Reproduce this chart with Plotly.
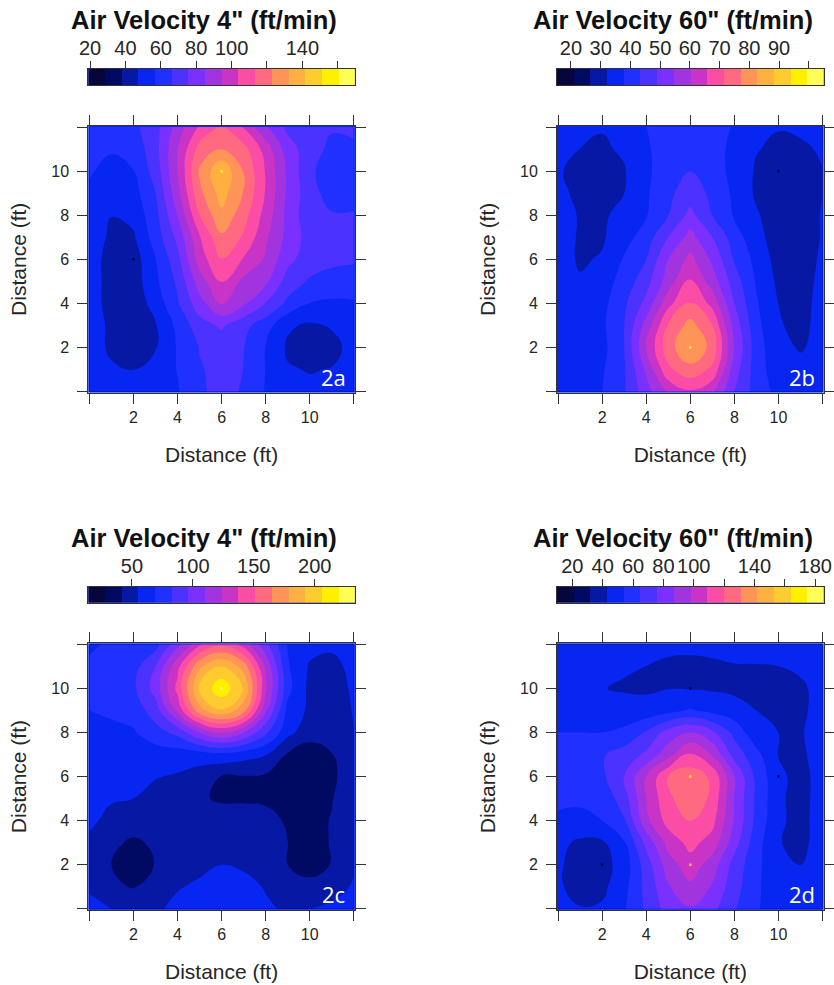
import plotly.graph_objects as go

WIDTH, HEIGHT = 834, 985

grid_x = list(range(13))
grid_y = list(range(12, -1, -1))

# air velocity (ft/min), rows from y=12 down to y=0
vel_2a = [
    [59, 61, 64, 72, 89, 105, 115, 103, 86, 73, 70, 67, 68],
    [58, 57.5, 60, 72, 94, 117, 123, 116.5, 100, 80, 70, 64, 64.5],
    [57.5, 54, 56.5, 70, 94, 124, 140, 122, 103, 83, 68, 61, 62],
    [55.5, 50, 53, 66, 91, 120, 136, 122, 103, 83, 70, 62, 62],
    [56.5, 47.5, 50, 63, 85, 113, 130, 117, 100, 82, 69, 67, 67],
    [55.5, 44.5, 46, 61, 78, 103, 121, 112, 96, 82, 71.5, 70, 70],
    [53, 42.5, 42.5, 56.5, 72.5, 99, 113, 103, 93, 78, 71, 68, 67],
    [52, 43.5, 42.5, 54.5, 68, 90, 104, 92, 87, 71.5, 65, 63, 63],
    [52, 43.5, 41.5, 51, 65, 81, 95, 86.5, 75, 64, 56.5, 55, 55.5],
    [53, 45, 41.5, 46.5, 59, 71.5, 77, 69, 61, 48.5, 46, 48, 51],
    [53.5, 45, 40.5, 46.5, 57.5, 66.5, 69.5, 66.5, 56.5, 46, 40.6, 44.8, 50],
    [53.5, 49, 47, 52, 57, 65.4, 68.5, 66, 56.5, 48, 46.8, 47.6, 53],
    [57, 51, 50, 53, 56, 64.5, 69.5, 65, 56, 51, 49, 51, 53.5],
]
vel_2b = [
    [33.8, 32.7, 32.4, 33.8, 37.7, 40, 41, 39.4, 37.4, 33.2, 32.4, 33, 33.8],
    [33.2, 32.1, 31.5, 32.7, 37.1, 40, 41.6, 39.4, 36.6, 32.4, 31, 31.3, 32.7],
    [32.7, 30.4, 29.9, 31.8, 36.6, 41, 43.3, 40.5, 36, 31.5, 29.3, 29.9, 32],
    [33, 31.3, 30.4, 32.1, 36.9, 42.2, 46.1, 42.2, 36.6, 31.3, 29.3, 29.9, 32.1],
    [33.8, 31.8, 31.3, 33.8, 37.4, 43.3, 50.6, 43.3, 37.1, 32.7, 29.3, 30.1, 32.4],
    [34.3, 31.6, 31.5, 35.5, 40.5, 48.9, 56.7, 48.9, 40.5, 33.8, 29.6, 30.1, 32.4],
    [34.3, 31.5, 32.6, 38.3, 43.3, 54.5, 61.8, 53.4, 42.7, 36, 29.9, 30.4, 32.7],
    [34.3, 32.6, 34.9, 40, 46.7, 57.3, 66.5, 57.3, 46.1, 37.1, 31, 30.7, 33],
    [34.3, 33.8, 36, 42.2, 50.6, 64, 71.9, 64, 48.9, 38.3, 32.1, 31, 33.2],
    [34.3, 33.8, 36.6, 43.3, 56.7, 71.9, 79.1, 71.3, 52.3, 39.4, 32.4, 31.3, 33.2],
    [34.3, 33.8, 36, 43.3, 60.1, 74.7, 82, 75.2, 54, 40.5, 33.2, 31.8, 33.2],
    [34.3, 34.3, 37.1, 42.7, 55.6, 70.2, 75.2, 70.2, 51.7, 40.5, 34.3, 33.2, 33.8],
    [34.3, 34.9, 37.7, 42.7, 52.3, 61.2, 65.1, 61.2, 48.9, 41, 36, 34.3, 34.3],
]
vel_2c = [
    [67.5, 70.3, 71.7, 77, 105.9, 134.6, 148.3, 131.8, 100.4, 68.2, 59.3, 58, 60.7],
    [70.3, 73, 77, 96.3, 133, 175.6, 193.4, 173, 121, 70.3, 53.9, 51, 59.3],
    [68.9, 73, 79.9, 101.8, 141.4, 193.4, 215.3, 190.7, 126.4, 73, 51.8, 47, 58],
    [68.9, 71.7, 74.4, 89.4, 126.4, 173, 190.7, 170, 112.7, 64.8, 52.5, 49, 55.9],
    [63.4, 64.8, 67.5, 77, 86.7, 110, 123.6, 110, 85.3, 59.3, 47, 48.4, 55.2],
    [61.4, 60.7, 60.7, 62, 61.4, 62, 64.8, 60.7, 55.9, 40, 34.7, 40.9, 53.9],
    [59.3, 57.3, 56.6, 55.9, 53.9, 49, 40.9, 40.9, 39.5, 36, 34.7, 38, 52.5],
    [58, 55.9, 55.2, 51, 49, 43, 40, 40, 39.5, 37.5, 36, 40.9, 51.8],
    [56.6, 53.2, 50.5, 49, 48.4, 48.4, 47.7, 47, 45.7, 40, 37.5, 42.2, 51],
    [53.9, 45, 38.8, 44.3, 49, 51, 51, 49.8, 47, 41.6, 37.5, 42.2, 51],
    [52.5, 41.6, 33, 42.2, 49.8, 53.2, 55.2, 53.9, 49, 41.6, 36, 42.2, 53.9],
    [53.9, 43.6, 40.9, 45, 54.6, 56.6, 60.7, 58, 54.6, 48.4, 45.7, 49.8, 56.6],
    [58, 55.2, 52.5, 53.9, 57.3, 62, 64.8, 62, 56.6, 53.9, 55.2, 58, 59.3],
]
vel_2d = [
    [48.3, 47.8, 47.2, 47.2, 46.1, 45, 45, 45.6, 46.1, 47.2, 47.8, 48.3, 49.4],
    [47.2, 46.1, 44.5, 43.4, 42.8, 41.2, 40.6, 41.2, 42.3, 42.3, 42.8, 44.5, 47.2],
    [46.7, 45, 43, 42.3, 41.2, 42.5, 42.3, 41.7, 40.6, 39.5, 37.4, 41.2, 46.1],
    [48.3, 47.2, 46.1, 45, 47.2, 50.5, 54.9, 50.5, 47.2, 42.8, 39.5, 40.6, 47.2],
    [53.8, 53.8, 53.8, 57.1, 65.9, 80.2, 86.8, 78, 61.5, 46.1, 42.8, 41.7, 48.3],
    [56, 58.2, 63.7, 69.2, 78, 93.3, 110.4, 96.6, 71.4, 57.1, 42.3, 40.1, 49.4],
    [56, 57.1, 62.6, 75.8, 97.7, 119.7, 126.3, 117.5, 86.8, 61.5, 45.6, 38.5, 48.3],
    [54.4, 54.9, 57.1, 70.3, 97.7, 117.5, 126.3, 117.5, 85.7, 62.6, 45, 38.5, 48.3],
    [53.3, 52.2, 53.8, 63.7, 94.4, 113, 119.7, 112, 85.7, 61.5, 45, 39, 48.3],
    [46.1, 40.6, 41.2, 52.7, 79, 102, 112, 104.3, 80.2, 58.2, 43.4, 40.1, 47.2],
    [44.5, 38, 38.5, 47.8, 70.3, 92.3, 104.3, 92.3, 71.4, 57.1, 43.9, 42.8, 47.2],
    [44.2, 39, 40.1, 50.5, 68.1, 85.7, 95.5, 85.7, 69.2, 56, 46.1, 45, 46.1],
    [46.1, 43.4, 44.5, 52.7, 67, 80.2, 85.7, 79, 65.9, 54.9, 48.3, 46.1, 46.1],
]

# isolated readings visible as single dots: x, y, velocity
spots_2a = ([6, 2], [10, 6], [165, 20])
spots_2b = ([6, 10], [2, 10], [102, 18])
spots_2c = ([6], [10], [232])
spots_2d = ([6, 6, 2, 6, 10], [6, 2, 2, 10, 6], [172, 150, 12, 12, 12])

# colour key limits (ft/min)
key_2a = (19.0, 169.7)
key_2b = (15.3, 105.0)
key_2c = (14.2, 233.0)
key_2d = (9.9, 185.5)

ticks_2a = [20, 40, 60, 80, 100, 120, 140, 160]
labels_2a = ["20", "40", "60", "80", "100", "", "140", ""]
ticks_2b = [20, 30, 40, 50, 60, 70, 80, 90, 100]
labels_2b = ["20", "30", "40", "50", "60", "70", "80", "90", ""]
ticks_2c = [50, 100, 150, 200]
labels_2c = ["50", "100", "150", "200"]
ticks_2d = [20, 40, 60, 80, 100, 120, 140, 160, 180]
labels_2d = ["20", "40", "60", "80", "100", "", "140", "", "180"]

titles = ['Air Velocity 4" (ft/min)', 'Air Velocity 60" (ft/min)',
          'Air Velocity 4" (ft/min)', 'Air Velocity 60" (ft/min)']
tags = ["2a", "2b", "2c", "2d"]
axis_ticks = [0, 2, 4, 6, 8, 10, 12]
axis_labels = ["", "2", "4", "6", "8", "10", ""]

palette = ["#06063a", "#000a62", "#0618a4", "#0826f2", "#2030ff", "#4c32ff",
           "#7a30ff", "#a234e0", "#c934c6", "#fb4ca6", "#ff6a80", "#ff9458",
           "#ffb040", "#ffcc30", "#fff000", "#ffff58"]
stepscale = [[i / 15, c] for i, c in enumerate(palette)]

FONT = "Liberation Sans, Arial, sans-serif"
INK = "#262626"
AXIS = "#333333"
BASE = "#0826f2"

panels = [
    (vel_2a, spots_2a, key_2a, ticks_2a, labels_2a),
    (vel_2b, spots_2b, key_2b, ticks_2b, labels_2b),
    (vel_2c, spots_2c, key_2c, ticks_2c, labels_2c),
    (vel_2d, spots_2d, key_2d, ticks_2d, labels_2d),
]
lefts = [88.3, 557.0, 88.3, 557.0]
tops = [126.0, 126.0, 643.3, 643.3]
key_tops = [69.0, 69.0, 586.7, 586.7]
title_ys = [20.0, 20.0, 538.0, 538.0]
BOX = 266.6
KEY_W, KEY_H = 266.6, 16.0

fig = go.Figure()
annotations = []
layout_axes = {}


def px_x(v):
    return v / WIDTH


def px_y(v):
    return 1 - v / HEIGHT


for i, (z, spots, key, cticks, clabels) in enumerate(panels):
    lo, hi = key
    w = (hi - lo) / 16
    n_main = 2 * i + 1
    n_key = 2 * i + 2
    xm, ym = f"x{n_main}", f"y{n_main}"
    xk, yk = f"x{n_key}", f"y{n_key}"

    fig.add_trace(go.Contour(
        x=grid_x, y=grid_y, z=z, xaxis=xm, yaxis=ym,
        autocontour=False,
        contours=dict(start=lo + w, end=lo + 15 * w, size=w, coloring="fill"),
        line=dict(width=0, smoothing=1.3),
        colorscale=stepscale, showscale=False, hoverinfo="skip",
    ))
    fig.add_trace(go.Scatter(
        x=spots[0], y=spots[1], xaxis=xm, yaxis=ym, mode="markers",
        marker=dict(symbol="square", size=2.5, color=spots[2], cmin=lo, cmax=hi,
                    colorscale=stepscale, line=dict(width=0)),
        showlegend=False, hoverinfo="skip",
    ))
    fig.add_trace(go.Heatmap(
        x=[lo + w * (k + 0.5) for k in range(16)], y=[0],
        z=[list(range(16))], xaxis=xk, yaxis=yk, zmin=0, zmax=15,
        colorscale=stepscale, showscale=False, hoverinfo="skip",
    ))

    l, t = lefts[i], tops[i]
    sfx_m = "" if n_main == 1 else str(n_main)
    common = dict(ticks="outside", ticklen=10, tickwidth=1, tickcolor=AXIS,
                  showline=True, linecolor=AXIS, linewidth=1, mirror="allticks",
                  showgrid=False, zeroline=False, tickmode="array",
                  tickvals=axis_ticks, ticktext=axis_labels, tickangle=0,
                  automargin=False, range=[-0.05, 12.05],
                  tickfont=dict(family=FONT, size=16, color=INK))
    layout_axes[f"xaxis{sfx_m}"] = dict(
        common, domain=[px_x(l), px_x(l + BOX)], anchor=ym,
        title=dict(text="Distance (ft)", standoff=22,
                   font=dict(family=FONT, size=21, color=INK)))
    layout_axes[f"yaxis{sfx_m}"] = dict(
        common, domain=[px_y(t + BOX), px_y(t)], anchor=xm, ticklabelstandoff=5,
        title=dict(text="Distance (ft)", standoff=18,
                   font=dict(family=FONT, size=21, color=INK)))

    kt = key_tops[i]
    layout_axes[f"xaxis{n_key}"] = dict(
        domain=[px_x(l), px_x(l + KEY_W)], anchor=yk, side="top",
        range=[lo, hi], ticks="outside", ticklen=7, tickwidth=1, tickcolor=AXIS,
        showline=True, linecolor=AXIS, linewidth=1, mirror=True, showgrid=False,
        zeroline=False, tickmode="array", tickvals=cticks, ticktext=clabels,
        tickangle=0, automargin=False, ticklabelstandoff=-2,
        tickfont=dict(family=FONT, size=20, color=INK))
    layout_axes[f"yaxis{n_key}"] = dict(
        domain=[px_y(kt + KEY_H), px_y(kt)], anchor=xk, range=[-0.5, 0.5],
        showticklabels=False, ticks="", showline=True, linecolor=AXIS,
        linewidth=1, mirror=True, showgrid=False, zeroline=False, automargin=False)

    annotations.append(dict(
        x=px_x(l + BOX / 2 - 17.5), y=px_y(title_ys[i]), xref="paper", yref="paper",
        text=f"<b>{titles[i]}</b>", showarrow=False, xanchor="center", yanchor="middle",
        font=dict(family=FONT, size=25.5, color="#111111")))
    annotations.append(dict(
        x=px_x(l + 245), y=px_y(t + 251), xref="paper", yref="paper",
        text=tags[i], showarrow=False, xanchor="center", yanchor="middle",
        font=dict(family="Open Sans, sans-serif", size=22, color="white")))

fig.update_layout(
    width=WIDTH, height=HEIGHT,
    margin=dict(l=0, r=0, t=0, b=0, autoexpand=False),
    paper_bgcolor="white", plot_bgcolor=BASE, showlegend=False,
    annotations=annotations, **layout_axes,
)

fig.write_html("out.html", config={"displayModeBar": False},
               post_script="document.body.style.margin='0';document.body.style.overflow='hidden';")
